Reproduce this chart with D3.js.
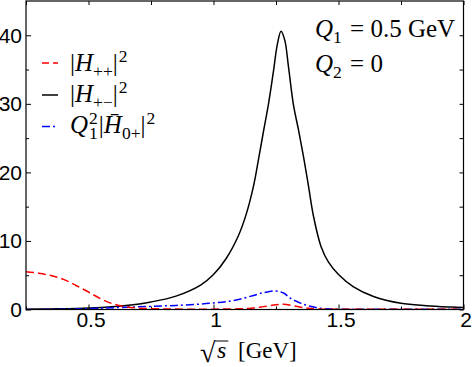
<!DOCTYPE html>
<html>
<head>
    <style>
        body { margin: 0; background: #fff; }
        .tick text { font-family: "Liberation Sans", Arial, sans-serif; font-size: 21px; fill: #000; }
        .tick line { stroke: #000; stroke-width: 1; }
        .math { font-family: "Liberation Serif", "Times New Roman", serif; fill: #000; }
    </style>
    <script src="https://d3js.org/d3.v7.min.js"></script>
</head>
<body>
<div id="chart"></div>
<script>
    // |H_{+-}|^2 (black, solid)
    const sPm = [0.25, 0.35, 0.45, 0.55, 0.65, 0.75, 0.85, 0.95, 1.0, 1.05, 1.1, 1.13, 1.16, 1.18, 1.2, 1.22, 1.24,
                 1.255, 1.27, 1.285, 1.3, 1.32, 1.34, 1.36, 1.38, 1.4, 1.43, 1.46, 1.5, 1.56, 1.64, 1.75, 1.85, 1.95, 2.0];
    const hPm = [0.03, 0.08, 0.15, 0.3, 0.58, 1.1, 1.95, 3.6, 5.1, 7.4, 10.8, 13.8, 18.0, 21.9, 26.0, 30.0, 34.8,
                 38.6, 40.6, 39.3, 35.4, 29.8, 26.2, 22.3, 18.0, 13.6, 9.2, 6.9, 5.1, 3.3, 1.9, 0.9, 0.55, 0.35, 0.28];

    // |H_{++}|^2 (red, dashed)
    const sPp = [0.25, 0.3, 0.35, 0.4, 0.45, 0.5, 0.55, 0.6, 0.65, 0.7, 0.8, 0.9, 1.0, 1.1, 1.15, 1.2, 1.25, 1.28,
                 1.32, 1.37, 1.42, 1.5, 1.7, 2.0];
    const hPp = [5.5, 5.3, 4.95, 4.4, 3.5, 2.55, 1.55, 0.8, 0.4, 0.2, 0.08, 0.05, 0.05, 0.1, 0.18, 0.42, 0.68, 0.75,
                 0.55, 0.22, 0.07, 0.03, 0.02, 0.02];

    // Q1^2 |Hbar_{0+}|^2 (blue, dash-dot)
    const s0p = [0.25, 0.35, 0.45, 0.55, 0.65, 0.75, 0.85, 0.95, 1.0, 1.05, 1.1, 1.15, 1.2, 1.25, 1.28, 1.31, 1.35,
                 1.4, 1.45, 1.5, 1.7, 2.0];
    const h0p = [0.0, 0.02, 0.08, 0.2, 0.33, 0.45, 0.6, 0.8, 0.95, 1.15, 1.45, 1.95, 2.45, 2.7, 2.4, 1.6, 0.9,
                 0.35, 0.1, 0.05, 0.03, 0.02];

    const xMajor = [0.5, 1, 1.5, 2];
    const xMinor = [0.25, 0.75, 1.25, 1.75];
    const yMajor = [0, 10, 20, 30, 40];
    const yMinor = [5, 15, 25, 35];

    const width = 473, height = 367;
    const pLeft = 26, pRight = 463.5, pTop = 1, pBottom = 309.5;

    const x = d3.scaleLinear().domain([0.25, 2]).range([pLeft, pRight]);
    const y = d3.scaleLinear().domain([0, 45]).range([pBottom, pTop]);

    const svg = d3.select('#chart').append('svg')
        .attr('width', width)
        .attr('height', height);

    svg.append('defs').append('clipPath').attr('id', 'plot')
        .append('rect')
        .attr('x', pLeft).attr('y', pTop)
        .attr('width', pRight - pLeft).attr('height', pBottom - pTop);

    // ticks (inside the frame)
    const fmt = d3.format('');
    svg.append('g')
        .attr('transform', `translate(0,${pBottom})`)
        .call(d3.axisBottom(x).tickValues(xMajor).tickSize(-5).tickSizeOuter(0).tickPadding(3).tickFormat(fmt))
        .call(g => g.select('.domain').remove())
        .call(g => g.selectAll('text').attr('dx', 2));
    svg.append('g')
        .attr('transform', `translate(0,${pBottom})`)
        .call(d3.axisBottom(x).tickValues(xMinor).tickSize(-3).tickSizeOuter(0).tickFormat(''))
        .call(g => g.select('.domain').remove());
    svg.append('g')
        .attr('transform', `translate(0,${pTop})`)
        .call(d3.axisTop(x).tickValues(xMajor.concat(xMinor)).tickSize(-4).tickSizeOuter(0).tickFormat(''))
        .call(g => g.select('.domain').remove());

    svg.append('g')
        .attr('transform', `translate(${pLeft},0)`)
        .call(d3.axisLeft(y).tickValues(yMajor).tickSize(-5).tickSizeOuter(0).tickPadding(4).tickFormat(fmt))
        .call(g => g.select('.domain').remove());
    svg.append('g')
        .attr('transform', `translate(${pLeft},0)`)
        .call(d3.axisLeft(y).tickValues(yMinor).tickSize(-3).tickSizeOuter(0).tickFormat(''))
        .call(g => g.select('.domain').remove());
    svg.append('g')
        .attr('transform', `translate(${pRight},0)`)
        .call(d3.axisRight(y).tickValues(yMajor.concat(yMinor)).tickSize(-4).tickSizeOuter(0).tickFormat(''))
        .call(g => g.select('.domain').remove());

    // curves
    const line = d3.line()
        .x(d => x(d[0]))
        .y(d => y(d[1]))
        .curve(d3.curveCatmullRom.alpha(0.5));

    const series = [
        {s: sPm, v: hPm, color: '#000', dash: null},
        {s: s0p, v: h0p, color: '#0000ff', dash: '8,3,2,3'},
        {s: sPp, v: hPp, color: '#ff0000', dash: '8,4'}
    ];

    svg.append('g').attr('clip-path', 'url(#plot)')
        .selectAll('path')
        .data(series)
        .join('path')
        .attr('d', d => line(d.s.map((s, i) => [s, d.v[i]])))
        .attr('fill', 'none')
        .attr('stroke', d => d.color)
        .attr('stroke-width', 1.5)
        .attr('stroke-dasharray', d => d.dash);

    // frame
    svg.append('rect')
        .attr('x', pLeft).attr('y', pTop)
        .attr('width', pRight - pLeft).attr('height', pBottom - pTop)
        .attr('fill', 'none')
        .attr('stroke', '#000')
        .attr('stroke-width', 1.2);

    // legend samples
    const legend = [
        {color: '#ff0000', dash: '7,4', y: 63},
        {color: '#000', dash: null, y: 95},
        {color: '#0000ff', dash: '8,3,2,3', y: 126.5}
    ];
    svg.append('g').selectAll('line')
        .data(legend)
        .join('line')
        .attr('x1', 42).attr('x2', 58)
        .attr('y1', d => d.y).attr('y2', d => d.y)
        .attr('stroke', d => d.color)
        .attr('stroke-width', 1.5)
        .attr('stroke-dasharray', d => d.dash);

    // math-like text built from tspans: {t, i (italic), small, dy, dx}
    function mathText(xp, yp, size, parts) {
        const t = svg.append('text').attr('class', 'math')
            .attr('x', xp).attr('y', yp)
            .style('font-size', size + 'px');
        parts.forEach(p => {
            const ts = t.append('tspan').text(p.t);
            if (p.i) ts.style('font-style', 'italic');
            if (p.small) ts.style('font-size', (size * 0.7) + 'px');
            if (p.dy) ts.attr('dy', p.dy);
            if (p.dx) ts.attr('dx', p.dx);
        });
        return t;
    }

    mathText(70, 71, 25, [
        {t: '|'}, {t: 'H', i: true}, {t: '++', small: true, dy: 6},
        {t: '|', dy: -6}, {t: '2', small: true, dy: -9, dx: 1}
    ]);
    mathText(70, 102, 25, [
        {t: '|'}, {t: 'H', i: true}, {t: '+−', small: true, dy: 6},
        {t: '|', dy: -6}, {t: '2', small: true, dy: -9, dx: 1}
    ]);
    mathText(70, 133, 25, [
        {t: 'Q', i: true}, {t: '2', small: true, dy: -9, dx: 1}, {t: '1', small: true, dy: 15, dx: -8.75},
        {t: '|', dy: -6, dx: 1}, {t: 'H\u0304', i: true}, {t: '0+', small: true, dy: 6},
        {t: '|', dy: -6}, {t: '2', small: true, dy: -9, dx: 1}
    ]);

    // annotation
    mathText(315, 37, 25, [
        {t: 'Q', i: true}, {t: '1', small: true, dy: 6}, {t: ' = 0.5 GeV', dy: -6, dx: 2}
    ]);
    mathText(315, 72, 25, [
        {t: 'Q', i: true}, {t: '2', small: true, dy: 6}, {t: ' = 0', dy: -6, dx: 2}
    ]);

    // x axis title: sqrt(s) [GeV]
    const rad = svg.append('text').attr('class', 'math')
        .attr('x', 200).attr('y', 362).style('font-size', '28px').text('√');
    const rb = rad.node().getBBox();
    const sx = rb.x + rb.width;
    const sTxt = svg.append('text').attr('class', 'math')
        .attr('x', sx + 1).attr('y', 358).style('font-size', '24px').style('font-style', 'italic').text('s');
    const sb = sTxt.node().getBBox();
    svg.append('line')
        .attr('x1', sx - 1).attr('x2', sb.x + sb.width + 2)
        .attr('y1', 341).attr('y2', 341)
        .attr('stroke', '#000').attr('stroke-width', 1);
    svg.append('text').attr('class', 'math')
        .attr('x', 238).attr('y', 358).style('font-size', '23px').text('[GeV]');
</script>
</body>
</html>
